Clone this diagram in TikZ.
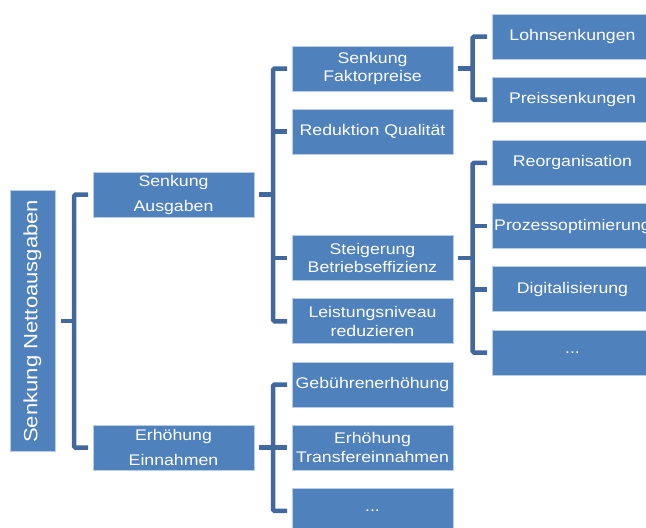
\documentclass[tikz,border=0pt]{standalone}
\usepackage{fontspec}
\setsansfont{Liberation Sans}[FakeStretch=1.15]
\usetikzlibrary{positioning,calc}

\definecolor{boxblue}{HTML}{4F81BD}
\definecolor{boxedge}{HTML}{BACDE6}
\definecolor{linkblue}{HTML}{41699E}

\begin{document}
\begin{tikzpicture}[
    node distance=18.2pt and 38pt,
    block/.style={
        rectangle,
        draw=boxedge,
        line width=0.8pt,
        outer sep=0pt,
        fill=boxblue,
        text=white,
        minimum width=161pt,
        minimum height=45pt,
        inner sep=1pt,
        align=center,
        font={\sffamily\fontsize{15.4pt}{18.5pt}\selectfont}
    },
    block_main/.style={
        block,
        font={\sffamily\fontsize{15.4pt}{25pt}\selectfont}
    },
    block_root/.style={
        block,
        rotate=90,
        minimum width=261pt,
        minimum height=45pt,
        font={\sffamily\fontsize{19.2pt}{22pt}\selectfont}
    },
    line/.style={
        draw=linkblue,
        line width=4.5pt,
        rounded corners=1.5pt
    }
]
    \useasboundingbox (0pt,0pt) rectangle (646pt,-528pt);

    % --- Measures (second column) ---
    \node [block] (faktor) at (372.5pt,-68.5pt) {Senkung\\Faktorpreise};
    \node [block, below=of faktor] (qualitaet) {Reduktion Qualität};
    \node [block, below=81.4pt of qualitaet] (effizienz) {Steigerung\\Betriebseffizienz};
    \node [block, below=of effizienz] (leistung) {Leistungsniveau\\reduzieren};
    \node [block, below=of leistung] (gebuehren) {Gebührenerhöhung};
    \node [block, below=of gebuehren] (transfer) {Erhöhung\\Transfereinnahmen};
    \node [block, below=of transfer] (einnahmen_more) {...};

    % --- Main branches and root ---
    \node [block_main, left=of transfer] (erhoehung) {Erhöhung\\Einnahmen};
    \node [block_main, above=208pt of erhoehung] (senkung) {Senkung\\Ausgaben};
    \coordinate (mid) at ($(senkung.west)!0.5!(erhoehung.west)$);
    \node [block_root, anchor=south] (root) at ([xshift=-38pt]mid) {Senkung Nettoausgaben};

    % --- Details (third column) ---
    \node [block, right=39pt of faktor, yshift=32pt] (lohn) {Lohnsenkungen};
    \node [block, below=of lohn] (preis) {Preissenkungen};
    \node [block, below=of preis] (reorg) {Reorganisation};
    \node [block, below=of reorg] (prozess) {Prozessoptimierung};
    \node [block, below=of prozess] (digital) {Digitalisierung};
    \node [block, below=of digital] (effizienz_more) {...};

    % --- Brackets ---
    \coordinate (sp_root) at ($(root.south)!0.5!(senkung.west)$);
    \path [line] ([xshift=6pt]root.south) -- (sp_root |- root.south);
    \path [line] ([xshift=-5pt]senkung.west) -| (sp_root) |- ([xshift=-5pt]erhoehung.west);

    \coordinate (sp_aus) at ($(senkung.east)!0.5!(faktor.west)$);
    \path [line] ([xshift=5pt]senkung.east) -- (sp_aus |- senkung);
    \path [line] ([xshift=-5pt]faktor.west) -| (sp_aus) |- ([xshift=-5pt]leistung.west);
    \path [line] (sp_aus |- qualitaet) -- ([xshift=-5pt]qualitaet.west);
    \path [line] (sp_aus |- effizienz) -- ([xshift=-5pt]effizienz.west);

    \coordinate (sp_ein) at ($(erhoehung.east)!0.5!(gebuehren.west)$);
    \path [line] ([xshift=5pt]erhoehung.east) -- (sp_ein |- erhoehung);
    \path [line] ([xshift=-5pt]gebuehren.west) -| (sp_ein) |- ([xshift=-5pt]einnahmen_more.west);
    \path [line] (sp_ein |- transfer) -- ([xshift=-5pt]transfer.west);

    \coordinate (sp_fak) at ($(faktor.east)!0.5!(lohn.west)$);
    \path [line] ([xshift=5pt]faktor.east) -- (sp_fak |- faktor);
    \path [line] ([xshift=-5pt]lohn.west) -| (sp_fak) |- ([xshift=-5pt]preis.west);

    \coordinate (sp_eff) at ($(effizienz.east)!0.5!(reorg.west)$);
    \path [line] ([xshift=5pt]effizienz.east) -- (sp_eff |- effizienz);
    \path [line] ([xshift=-5pt]reorg.west) -| (sp_eff) |- ([xshift=-5pt]effizienz_more.west);
    \path [line] (sp_eff |- prozess) -- ([xshift=-5pt]prozess.west);
    \path [line] (sp_eff |- digital) -- ([xshift=-5pt]digital.west);

\end{tikzpicture}
\end{document}
